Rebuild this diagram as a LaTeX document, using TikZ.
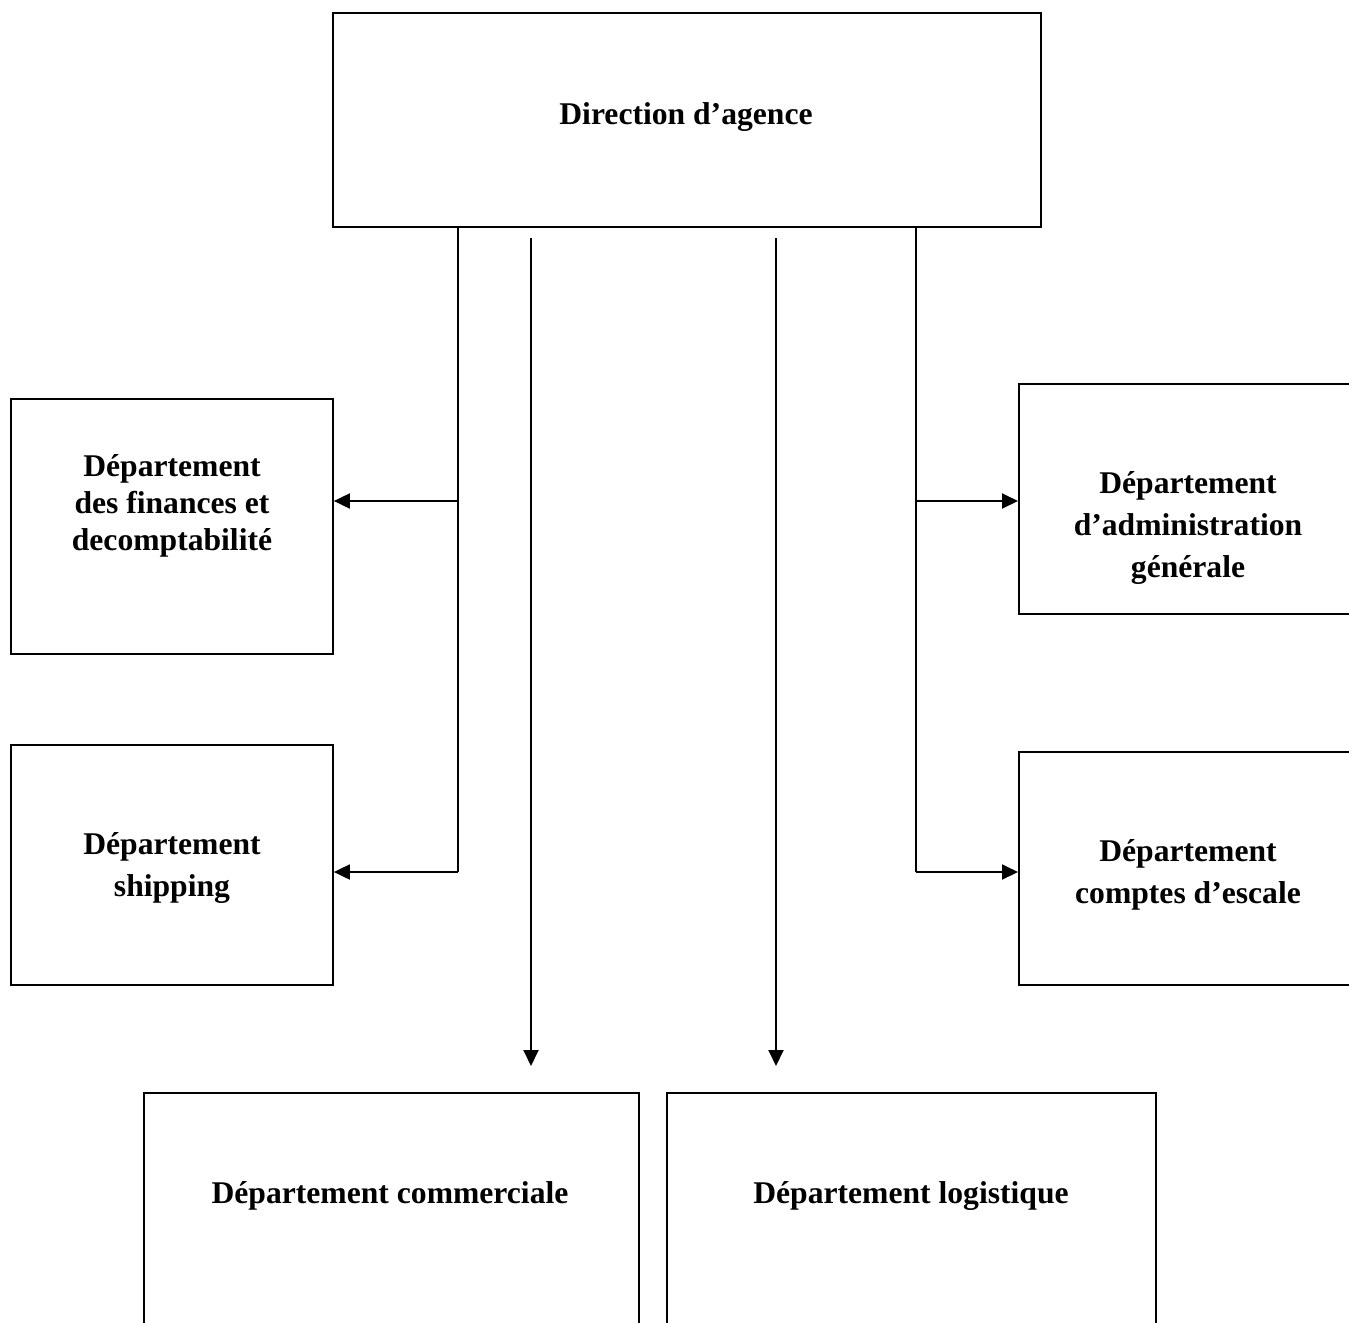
\documentclass[tikz,border=0pt]{standalone}
\usepackage{fontspec}
\setmainfont{Liberation Serif}
\usetikzlibrary{arrows.meta,positioning,calc}

\begin{document}
\begin{tikzpicture}[
  x=0.02cm,y=-0.02cm,
  >={Triangle[length=0.32cm,width=0.3cm]},
  dept/.style={draw,line width=1.1pt,anchor=north west,inner sep=0pt},
  depttxt/.style={font=\fontsize{18}{24}\selectfont\bfseries,align=center},
  trunk/.style={line width=1.1pt},
  arr/.style={->,line width=1.1pt},
]
\useasboundingbox (0,0) rectangle (1349,1322);
\clip (0,0) rectangle (1349,1322);

%% ── Direction ───────────────────────────────────────────────────────────
\node[dept,minimum width=14.16cm,minimum height=4.28cm] (dir) at (332,12) {};
\node[depttxt] (dirtxt) at (686,117) {Direction d’agence};

%% ── Left departments ────────────────────────────────────────────────────
\node[dept,minimum width=6.44cm,minimum height=5.1cm] (fin) at (10,398) {};
\node[depttxt,font=\fontsize{18}{21}\selectfont\bfseries] (fintxt) at (172,506)
  {Département\\des finances et\\decomptabilité};

\node[dept,minimum width=6.44cm,minimum height=4.8cm] (ship) at (10,744) {};
\node[depttxt] (shiptxt) at (172,868) {Département\\shipping};

%% ── Right departments ───────────────────────────────────────────────────
\node[dept,minimum width=8cm,minimum height=4.6cm] (admin) at (1018,383) {};
\node[depttxt] (admintxt) at (1188,528)
  {Département\\d’administration\\générale};

\node[dept,minimum width=8cm,minimum height=4.66cm] (escale) at (1018,751) {};
\node[depttxt] (escaletxt) at (1188,875) {Département\\comptes d’escale};

%% ── Bottom departments ──────────────────────────────────────────────────
\node[dept,minimum width=9.9cm,minimum height=6cm] (comm) at (143,1092) {};
\node[depttxt] (commtxt) at (390,1196) {Département commerciale};

\node[dept,minimum width=9.78cm,minimum height=6cm] (logi) at (666,1092) {};
\node[depttxt] (logitxt) at (911,1196) {Département logistique};

%% ── Left trunk ──────────────────────────────────────────────────────────
\coordinate (ltop) at (458,226);
\coordinate (ljoin) at (458,501);
\coordinate (lbot) at (458,872);
\draw[trunk] (ltop) -- (lbot);
\draw[arr] (ljoin) -- (ljoin -| fin.east);
\draw[arr] (lbot) -- (lbot -| ship.east);

%% ── Right trunk ─────────────────────────────────────────────────────────
\coordinate (rtop) at (916,226);
\coordinate (rjoin) at (916,501);
\coordinate (rbot) at (916,872);
\draw[trunk] (rtop) -- (rbot);
\draw[arr] (rjoin) -- (rjoin -| admin.west);
\draw[arr] (rbot) -- (rbot -| escale.west);

%% ── Middle arrows ───────────────────────────────────────────────────────
\coordinate (mla) at (531,238);
\coordinate (mlb) at (531,1066);
\coordinate (mra) at (776,238);
\coordinate (mrb) at (776,1066);
\draw[arr] (mla) -- (mlb);
\draw[arr] (mra) -- (mrb);

\end{tikzpicture}
\end{document}
